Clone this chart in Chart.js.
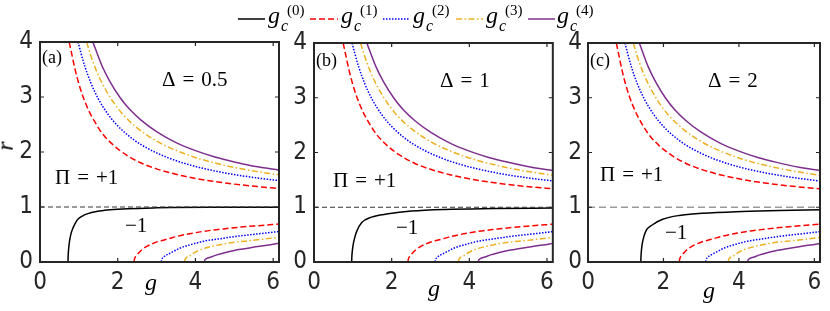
<!DOCTYPE html>
<html>
<head>
<meta charset="utf-8">
<script src="https://cdn.jsdelivr.net/npm/chart.js@4.4.1/dist/chart.umd.min.js"></script>
<style>
  html, body { margin:0; padding:0; background:#fff; }
  #root { position:relative; width:830px; height:311px; overflow:hidden; background:#fff; }
  .pane { position:absolute; top:0; height:311px; }
  .pane canvas { display:block; }
  .t { position:absolute; font-family:'Liberation Serif','Times New Roman',serif; line-height:1; white-space:nowrap; color:#000; }
  .it { font-style:italic; }
  .eq { margin:0 7px; }
  .leg { position:absolute; }
  .lg { position:absolute; font-family:'Liberation Serif',serif; line-height:1; white-space:nowrap; color:#000; }
</style>
</head>
<body>
<div id="root">
  <div class="pane" style="left:0;width:290px"><canvas id="ca" width="290" height="311"></canvas></div>
  <div class="pane" style="left:290px;width:270px"><canvas id="cb" width="270" height="311"></canvas></div>
  <div class="pane" style="left:560px;width:270px"><canvas id="cc" width="270" height="311"></canvas></div>

  <!-- legend -->
  <svg class="leg" style="left:0;top:0" width="830" height="40">
    <line x1="238" y1="19" x2="265" y2="19" stroke="#000" stroke-width="1.5"/>
    <line x1="310" y1="19" x2="338" y2="19" stroke="#ff0000" stroke-width="1.5" stroke-dasharray="6 3"/>
    <line x1="383" y1="19" x2="410" y2="19" stroke="#0000ff" stroke-width="1.5" stroke-dasharray="1.5 1.5"/>
    <line x1="456" y1="19" x2="483" y2="19" stroke="#EDB120" stroke-width="1.5" stroke-dasharray="6 2.5 1.5 2.5"/>
    <line x1="528" y1="19" x2="555" y2="19" stroke="#7E2F8E" stroke-width="1.5"/>
  </svg>
  <span class="lg it" style="left:268px;top:3px;font-size:24px">g</span><span class="lg it" style="left:281px;top:18px;font-size:16px">c</span><span class="lg" style="left:287px;top:3px;font-size:15px">(0)</span>
  <span class="lg it" style="left:341px;top:3px;font-size:24px">g</span><span class="lg it" style="left:354px;top:18px;font-size:16px">c</span><span class="lg" style="left:360px;top:3px;font-size:15px">(1)</span>
  <span class="lg it" style="left:413px;top:3px;font-size:24px">g</span><span class="lg it" style="left:426px;top:18px;font-size:16px">c</span><span class="lg" style="left:432px;top:3px;font-size:15px">(2)</span>
  <span class="lg it" style="left:486px;top:3px;font-size:24px">g</span><span class="lg it" style="left:499px;top:18px;font-size:16px">c</span><span class="lg" style="left:505px;top:3px;font-size:15px">(3)</span>
  <span class="lg it" style="left:557px;top:3px;font-size:24px">g</span><span class="lg it" style="left:570px;top:18px;font-size:16px">c</span><span class="lg" style="left:576px;top:3px;font-size:15px">(4)</span>

  <!-- panel annotations -->
  <span class="t" style="left:42px;top:48px;font-size:18px">(a)</span>
  <span class="t" style="left:316px;top:51px;font-size:18px">(b)</span>
  <span class="t" style="left:590px;top:51px;font-size:18px">(c)</span>

  <span class="t" style="left:162px;top:69px;font-size:21px">Δ<span class="eq">=</span>0.5</span>
  <span class="t" style="left:440px;top:70px;font-size:21px">Δ<span class="eq">=</span>1</span>
  <span class="t" style="left:708px;top:70px;font-size:21px">Δ<span class="eq">=</span>2</span>

  <span class="t" style="left:55px;top:167px;font-size:21px">Π<span class="eq">=</span>+1</span>
  <span class="t" style="left:333px;top:170px;font-size:21px">Π<span class="eq">=</span>+1</span>
  <span class="t" style="left:600px;top:164px;font-size:21px">Π<span class="eq">=</span>+1</span>

  <span class="t" style="left:125px;top:215px;font-size:21px">−1</span>
  <span class="t" style="left:396px;top:217px;font-size:21px">−1</span>
  <span class="t" style="left:665px;top:222px;font-size:21px">−1</span>

  <!-- axis titles -->
  <span class="t it" style="left:0px;top:134px;font-size:24px;transform:rotate(-90deg);transform-origin:50% 50%">r</span>
  <span class="t it" style="left:145px;top:270px;font-size:24px">g</span>
  <span class="t it" style="left:428px;top:276px;font-size:24px">g</span>
  <span class="t it" style="left:703px;top:278px;font-size:24px">g</span>
</div>

<script>
// ---------------- data ----------------
const gTicks = [0, 2, 4, 6];
const rTicks = [0, 1, 2, 3, 4];
const gMax = 6.15;
const rMax = 4;

// g_c^(0) lower branch (depends on Delta)
const g0_a_g = [0.72, 0.725, 0.74, 0.76, 0.80, 0.85, 0.92, 0.98, 1.10, 1.23, 1.45, 1.66, 2.00, 2.26, 3.00, 3.38, 4.50, 6.15];
const g0_a_r = [0.00, 0.12, 0.26, 0.38, 0.52, 0.62, 0.72, 0.78, 0.84, 0.88, 0.92, 0.94, 0.96, 0.97, 0.985, 0.99, 0.995, 0.997];
const g0_b_g = [0.97, 0.975, 0.99, 1.01, 1.05, 1.10, 1.23, 1.48, 1.91, 2.51, 3.37, 4.65, 6.15];
const g0_b_r = [0.00, 0.10, 0.22, 0.32, 0.45, 0.56, 0.72, 0.82, 0.88, 0.93, 0.96, 0.975, 0.985];
const g0_c_g = [1.40, 1.405, 1.42, 1.45, 1.53, 1.71, 1.98, 2.42, 3.04, 3.93, 5.08, 6.15];
const g0_c_r = [0.00, 0.10, 0.24, 0.38, 0.56, 0.68, 0.78, 0.85, 0.89, 0.92, 0.94, 0.955];

// g_c^(1..4) upper branches (r > 1)
const g1_up_g = [0.75, 0.80, 0.90, 1.00, 1.10, 1.25, 1.40, 1.60, 1.88, 2.20, 2.60, 3.00, 3.50, 4.00, 4.50, 5.00, 5.60, 6.15];
const g1_up_r = [4.00, 3.84, 3.51, 3.24, 3.02, 2.76, 2.56, 2.34, 2.13, 1.955, 1.80, 1.693, 1.594, 1.52, 1.462, 1.416, 1.371, 1.338];
const g2_up_g = [0.98, 1.05, 1.15, 1.30, 1.50, 1.75, 2.00, 2.40, 2.80, 3.30, 3.80, 4.30, 5.00, 5.60, 6.15];
const g2_up_r = [4.00, 3.81, 3.565, 3.27, 2.967, 2.686, 2.475, 2.229, 2.054, 1.894, 1.776, 1.686, 1.59, 1.527, 1.48];
const g3_up_g = [1.20, 1.30, 1.45, 1.60, 1.80, 2.10, 2.50, 3.00, 3.50, 4.00, 4.50, 5.00, 5.60, 6.15];
const g3_up_r = [4.00, 3.77, 3.48, 3.25, 3.00, 2.71, 2.44, 2.20, 2.03, 1.90, 1.80, 1.72, 1.643, 1.585];
const g4_up_g = [1.36, 1.45, 1.60, 1.80, 2.05, 2.30, 2.60, 3.00, 3.50, 4.00, 4.50, 5.00, 5.60, 6.15];
const g4_up_r = [4.00, 3.83, 3.56, 3.28, 3.00, 2.78, 2.58, 2.37, 2.17, 2.025, 1.91, 1.82, 1.73, 1.67];

// g_c^(1..4) lower branches (r < 1)
const g1_lo_g = [2.42, 2.43, 2.46, 2.52, 2.60, 2.69, 2.85, 3.03, 3.30, 3.55, 3.90, 4.23, 4.70, 5.09, 5.60, 6.15];
const g1_lo_r = [0.00, 0.05, 0.10, 0.15, 0.21, 0.26, 0.32, 0.37, 0.42, 0.47, 0.52, 0.56, 0.60, 0.63, 0.66, 0.69];
const g2_lo_g = [3.12, 3.13, 3.17, 3.23, 3.29, 3.40, 3.63, 3.90, 4.23, 4.60, 5.09, 5.60, 6.15];
const g2_lo_r = [0.00, 0.04, 0.08, 0.12, 0.14, 0.18, 0.26, 0.32, 0.38, 0.42, 0.47, 0.51, 0.555];
const g3_lo_g = [3.72, 3.73, 3.77, 3.85, 3.95, 4.15, 4.40, 4.66, 5.00, 5.43, 5.80, 6.15];
const g3_lo_r = [0.00, 0.04, 0.08, 0.11, 0.16, 0.23, 0.28, 0.32, 0.36, 0.39, 0.42, 0.45];
const g4_lo_g = [4.23, 4.24, 4.28, 4.40, 4.55, 4.75, 5.00, 5.26, 5.60, 5.90, 6.15];
const g4_lo_r = [0.00, 0.03, 0.06, 0.09, 0.13, 0.17, 0.21, 0.24, 0.28, 0.31, 0.34];

// reference line r = 1
const refLine_g = [0, 6.15];
const refLine_r = [1, 1];

// ---------------- styling ----------------
const pts = (xs, ys) => xs.map((x, i) => ({ x: x, y: ys[i] }));
const styles = [
  { color: '#000000', dash: [] },
  { color: '#ff0000', dash: [6, 3] },
  { color: '#0000ff', dash: [1.5, 1.5] },
  { color: '#EDB120', dash: [6, 2.5, 1.5, 2.5] },
  { color: '#7E2F8E', dash: [] }
];
function ds(xs, ys, s, label) {
  return {
    label: label, data: pts(xs, ys), borderColor: s.color, borderDash: s.dash,
    borderWidth: 1.5, pointRadius: 0, fill: false, cubicInterpolationMode: 'monotone'
  };
}

const framePlugin = {
  id: 'frame',
  afterDatasetsDraw(chart) {
    const { ctx, chartArea: a, scales: { x, y } } = chart;
    ctx.save();
    ctx.strokeStyle = '#262626';
    ctx.lineWidth = 1.2;
    const tl = 4;
    ctx.beginPath();
    gTicks.forEach(v => {
      const px = x.getPixelForValue(v);
      ctx.moveTo(px, a.bottom); ctx.lineTo(px, a.bottom - tl);
      ctx.moveTo(px, a.top); ctx.lineTo(px, a.top + tl);
    });
    rTicks.forEach(v => {
      const py = y.getPixelForValue(v);
      ctx.moveTo(a.left, py); ctx.lineTo(a.left + tl, py);
      ctx.moveTo(a.right, py); ctx.lineTo(a.right - tl, py);
    });
    ctx.stroke();
    ctx.lineWidth = 2;
    ctx.strokeRect(a.left, a.top, a.right - a.left, a.bottom - a.top);
    ctx.restore();
  }
};

const tickFont = { family: "'Liberation Sans Narrow','DejaVu Sans Condensed','Liberation Sans',sans-serif", size: 24 };

function makePanel(id, g0g, g0r, yAxisWidth, padTop, padRight, refColor, refDash, refWidth, yPad) {
  const datasets = [
    ds(refLine_g, refLine_r, { color: refColor, dash: refDash }, 'r = 1'),
    ds(g0g, g0r, styles[0], 'g_c^(0)'),
    ds(g1_up_g, g1_up_r, styles[1], 'g_c^(1)'),
    ds(g1_lo_g, g1_lo_r, styles[1], 'g_c^(1) '),
    ds(g2_up_g, g2_up_r, styles[2], 'g_c^(2)'),
    ds(g2_lo_g, g2_lo_r, styles[2], 'g_c^(2) '),
    ds(g3_up_g, g3_up_r, styles[3], 'g_c^(3)'),
    ds(g3_lo_g, g3_lo_r, styles[3], 'g_c^(3) '),
    ds(g4_up_g, g4_up_r, styles[4], 'g_c^(4)'),
    ds(g4_lo_g, g4_lo_r, styles[4], 'g_c^(4) ')
  ];
  datasets[0].borderWidth = refWidth;
  datasets[0].cubicInterpolationMode = 'default';
  return new Chart(document.getElementById(id), {
    type: 'line',
    data: { datasets: datasets },
    options: {
      responsive: false, animation: false, devicePixelRatio: 1,
      layout: { padding: { top: padTop, right: padRight, left: 0, bottom: 0 } },
      plugins: { legend: { display: false }, tooltip: { enabled: false } },
      scales: {
        x: {
          type: 'linear', min: 0, max: gMax,
          grid: { display: false, drawTicks: false }, border: { display: false },
          afterBuildTicks: s => { s.ticks = gTicks.map(v => ({ value: v })); },
          afterFit: s => { s.height = 49; },
          ticks: { font: tickFont, color: '#262626', padding: 6, maxRotation: 0, autoSkip: false }
        },
        y: {
          type: 'linear', min: 0, max: rMax,
          grid: { display: false, drawTicks: false }, border: { display: false },
          afterBuildTicks: s => { s.ticks = rTicks.map(v => ({ value: v })); },
          afterFit: s => { s.width = yAxisWidth; },
          ticks: { font: tickFont, color: '#262626', padding: yPad, autoSkip: false }
        }
      }
    },
    plugins: [framePlugin]
  });
}

makePanel('ca', g0_a_g, g0_a_r, 40, 42, 11, '#333333', [5, 3], 1, 7);
makePanel('cb', g0_b_g, g0_b_r, 24, 43, 6, '#333333', [5, 3], 1, 7);
makePanel('cc', g0_c_g, g0_c_r, 28, 43, 10, '#999999', [7, 4], 1.5, 6);
</script>
</body>
</html>
